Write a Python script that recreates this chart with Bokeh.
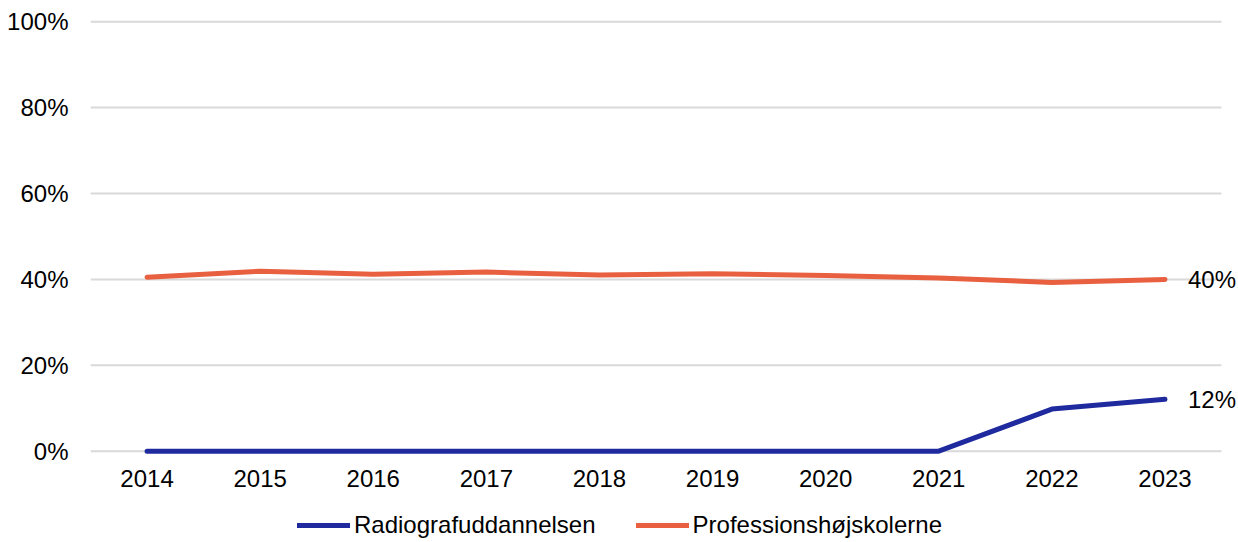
from bokeh.plotting import figure
from bokeh.layouts import column
from bokeh.models import Range1d, FixedTicker, PrintfTickFormatter, Legend, LegendItem, Label, ColumnDataSource
from bokeh.embed import file_html
from bokeh.resources import INLINE

years = ["2014", "2015", "2016", "2017", "2018", "2019", "2020", "2021", "2022", "2023"]
radiograf = [0, 0, 0, 0, 0, 0, 0, 0, 9.8, 12.1]
prof = [40.5, 41.9, 41.2, 41.7, 41.0, 41.3, 40.9, 40.3, 39.3, 40.0]
y_ticks = [0, 20, 40, 60, 80, 100]
series_names = ["Radiografuddannelsen", "Professionshøjskolerne"]
colors = ["#1f2a9e", "#e8603f"]
end_labels = ["12%", "40%"]

FONT = "Liberation Sans"
FS = "24px"
n = len(years)
idx = list(range(n))

p = figure(x_range=Range1d(-0.5, 9.65), y_range=Range1d(-1, 100.5),
           frame_width=1148, frame_height=436, min_border_left=90, min_border_top=19,
           min_border_right=0, min_border_bottom=44,
           output_backend="svg", toolbar_location=None)
p.outline_line_color = None
p.background_fill_color = "white"
p.border_fill_color = "white"

# horizontal gridlines spanning the category band only
p.segment(x0=[-0.5] * len(y_ticks), x1=[n - 0.5] * len(y_ticks), y0=y_ticks, y1=y_ticks,
          line_color="#d9d9d9", line_width=2)

src = ColumnDataSource(dict(x=idx, r=radiograf, q=prof))
r1 = p.line("x", "r", source=src, line_color=colors[0], line_width=5, line_cap="round", line_join="round")
r2 = p.line("x", "q", source=src, line_color=colors[1], line_width=5, line_cap="round", line_join="round")

for vals, txt in [(radiograf, end_labels[0]), (prof, end_labels[1])]:
    p.add_layout(Label(x=n - 1, y=vals[-1], x_offset=23, text=txt,
                       text_font=FONT, text_font_size=FS, text_baseline="middle",
                       text_color="#000000"))

p.xaxis.ticker = FixedTicker(ticks=idx)
p.xaxis.major_label_overrides = {i: y for i, y in zip(idx, years)}
p.yaxis.ticker = FixedTicker(ticks=y_ticks)
p.yaxis.formatter = PrintfTickFormatter(format="%d%%")
for ax in (p.xaxis, p.yaxis):
    ax.axis_line_color = None
    ax.major_tick_line_color = None
    ax.minor_tick_line_color = None
    ax.major_tick_out = 0
    ax.major_tick_in = 0
    ax.minor_tick_out = 0
    ax.minor_tick_in = 0
    ax.major_label_text_font = FONT
    ax.major_label_text_font_size = FS
    ax.major_label_text_color = "#000000"
p.yaxis.major_label_standoff = 22
p.xaxis.major_label_standoff = 14
p.xgrid.grid_line_color = None
p.ygrid.grid_line_color = None

# legend strip below the chart (its frame is aligned with the chart's frame)
lf = figure(width=1238, height=43, x_range=Range1d(0, 1), y_range=Range1d(0, 1),
            x_axis_type=None, y_axis_type=None, min_border=0,
            output_backend="svg", toolbar_location=None)
lf.outline_line_color = None
lf.grid.grid_line_color = None
nan = float("nan")
l1 = lf.line(x=[nan], y=[nan], line_color=colors[0], line_width=5, line_cap="round")
l2 = lf.line(x=[nan], y=[nan], line_color=colors[1], line_width=5, line_cap="round")
legend = Legend(items=[LegendItem(label=series_names[0], renderers=[l1]),
                       LegendItem(label=series_names[1], renderers=[l2])],
                orientation="horizontal", location=(207, 3),
                label_text_font=FONT, label_text_font_size=FS, label_text_color="#000000",
                glyph_width=53, glyph_height=20, label_standoff=4, spacing=40,
                padding=0, margin=0, border_line_color=None, background_fill_alpha=0)
lf.add_layout(legend, "center")

open("out.html", "w").write(file_html(column(p, lf, spacing=0), INLINE))
